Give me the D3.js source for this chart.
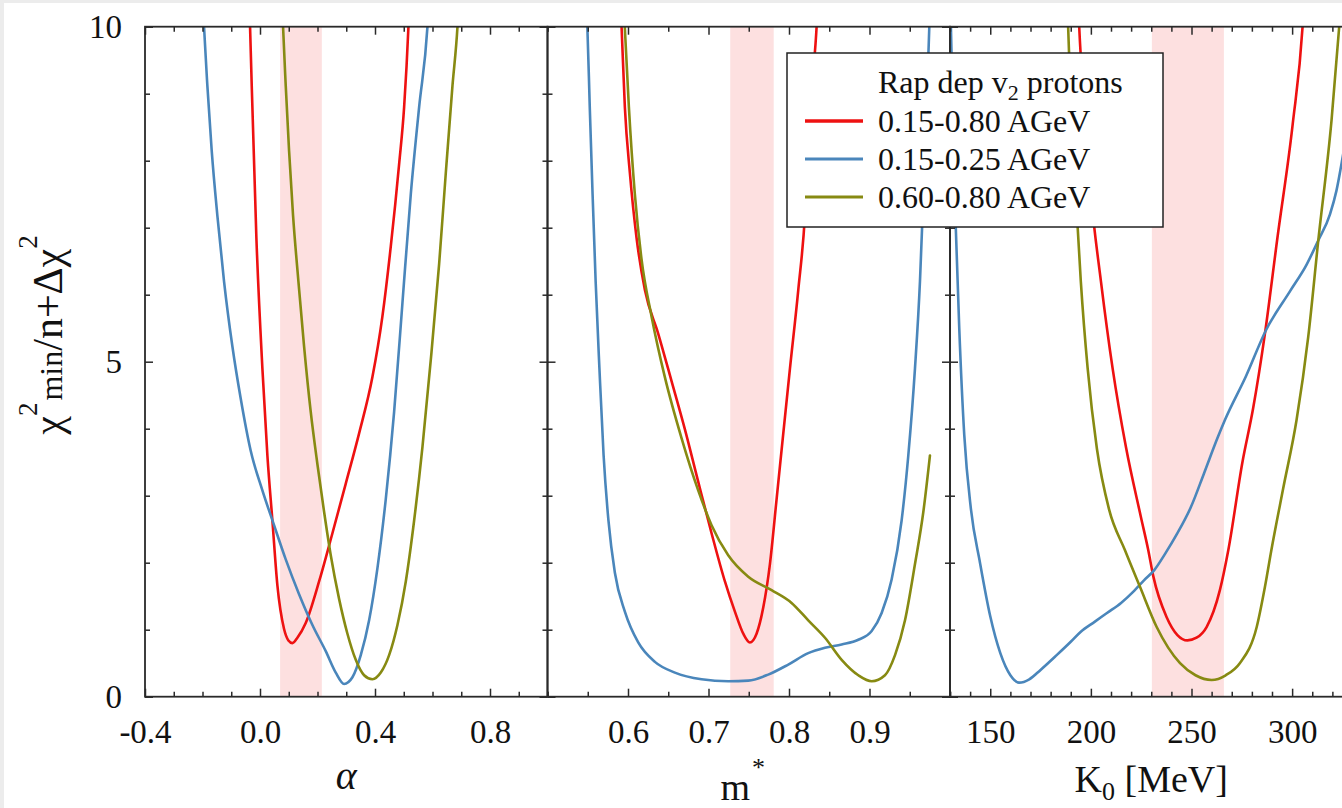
<!DOCTYPE html>
<html><head><meta charset="utf-8">
<script src="https://cdn.jsdelivr.net/npm/d3@7"></script>
<style>
html,body{margin:0;padding:0;background:#fff;}
svg{display:block;}
svg text{font-family:"Liberation Serif","DejaVu Serif",serif !important;fill:#111;}
</style></head>
<body><svg id="c" width="1342" height="808"></svg>
<script>
// ---------- DATA ----------
const seriesNames = ["0.15-0.80 AGeV", "0.15-0.25 AGeV", "0.60-0.80 AGeV"];
const seriesColors = ["#ee1111", "#4a86bb", "#878a12"];

// Panel 1: alpha
const alphaRedX  = [-0.038,-0.0346,-0.0126,0.0083,0.0257,0.0431,0.0605,0.0837,0.0988,0.1127,0.130,0.159,0.2055,0.2519,0.2983,0.3447,0.391,0.4259,0.4549,0.4839,0.5013,0.5163,0.520];
const alphaRedY  = [10.5,10.0,6.85,4.90,3.60,2.63,1.66,1.01,0.84,0.80,0.88,1.10,1.72,2.44,3.18,3.93,4.77,5.68,6.72,7.95,8.80,10.0,10.4];
const alphaBlueX = [-0.200,-0.1947,-0.1831,-0.168,-0.1483,-0.1251,-0.0961,-0.0671,-0.0323,0.0083,0.0489,0.0895,0.1359,0.1823,0.2287,0.2635,0.2925,0.3215,0.3505,0.3795,0.4085,0.4375,0.4665,0.4955,0.5245,0.5535,0.5825,0.588];
const alphaBlueY = [10.5,10.0,9.12,8.15,7.18,6.20,5.23,4.45,3.67,3.08,2.56,2.05,1.53,1.07,0.68,0.36,0.19,0.29,0.62,1.14,1.92,2.95,4.25,5.88,7.50,8.80,10.0,10.4];
const alphaOliveX = [0.076,0.0802,0.0895,0.1011,0.115,0.1336,0.1533,0.1765,0.1997,0.2229,0.2461,0.2751,0.3041,0.3331,0.3621,0.3911,0.4201,0.4491,0.4781,0.5071,0.5361,0.5651,0.5941,0.6231,0.6463,0.6695,0.6869,0.692];
const alphaOliveY = [10.5,10.0,9.12,8.15,7.18,6.20,5.23,4.25,3.47,2.76,2.11,1.46,0.94,0.55,0.32,0.26,0.36,0.62,1.07,1.72,2.63,3.73,5.03,6.46,7.82,9.12,10.0,10.4];

// Panel 2: m*
const mRedX  = [0.590,0.592,0.5961,0.6023,0.6106,0.621,0.6375,0.6541,0.6707,0.6872,0.7038,0.7204,0.7328,0.7432,0.7514,0.7597,0.768,0.7763,0.7846,0.7929,0.8012,0.8115,0.8198,0.8239,0.8289,0.8343,0.836];
const mRedY  = [10.5,10.0,8.80,7.82,6.85,6.07,5.42,4.71,3.99,3.21,2.44,1.72,1.27,0.94,0.81,0.94,1.33,1.98,2.95,3.93,4.90,6.07,7.18,8.15,9.12,10.0,10.4];
const mBlueX = [0.547,0.5495,0.5525,0.556,0.5598,0.5645,0.5697,0.5757,0.5837,0.5961,0.6127,0.6334,0.6582,0.6914,0.7245,0.7494,0.7742,0.7991,0.8239,0.8447,0.8654,0.8861,0.9027,0.9151,0.9275,0.9399,0.9482,0.9565,0.9627,0.9669,0.971,0.9743,0.976];
const mBlueY = [10.5,10.0,8.80,7.50,6.20,4.90,3.60,2.63,1.85,1.27,0.81,0.52,0.36,0.26,0.23,0.24,0.33,0.48,0.65,0.73,0.78,0.85,0.98,1.25,1.75,2.63,3.60,4.90,6.20,7.50,8.80,10.0,10.5];
const mOliveX = [0.594,0.596,0.6011,0.6085,0.6168,0.6292,0.6458,0.6665,0.6872,0.7038,0.7245,0.7494,0.7784,0.8032,0.8239,0.8447,0.8654,0.8861,0.9027,0.9192,0.9317,0.9441,0.9565,0.9669,0.9751];
const mOliveY = [10.5,10.0,8.80,7.50,6.53,5.68,4.77,3.86,3.08,2.56,2.11,1.79,1.59,1.40,1.14,0.88,0.55,0.32,0.23,0.32,0.62,1.14,1.98,2.76,3.60];

// Panel 3: K0 [MeV]
const kRedX  = [193.5,194.2,196.7,200,205,210.8,217.4,224.8,228.5,231,237.6,243,248,252.5,257.5,264.1,268.3,275.3,280.6,286.4,292.7,300.3,305.2,306];
const kRedY  = [10.5,10.0,8.80,7.50,6.20,4.90,3.73,2.69,2.19,1.80,1.19,0.92,0.84,0.88,1.04,1.59,2.19,3.50,4.30,5.40,6.85,8.55,10.0,10.4];
const kBlueX = [130,131.5,132.9,134.6,137.1,140.4,144.9,150,155,160,164.3,169.4,175,183,190,195,202,208,215,221.5,226.5,231.5,236.4,243,249.7,256.3,262.9,266.6,277,287,298.9,307.2,313,318.8,322,324.8,330];
const kBlueY = [10.6,8.6,6.98,5.50,3.90,2.80,2.00,1.20,0.65,0.32,0.21,0.26,0.40,0.62,0.82,0.97,1.12,1.25,1.40,1.58,1.74,1.89,2.11,2.44,2.83,3.34,3.86,4.13,4.78,5.47,6.05,6.45,6.81,7.20,7.55,8.00,9.00];
const kOliveX = [188,188.7,190.1,192.5,195,198.4,203,209,216.9,224.4,232.7,244.3,252,260,267,274,282.4,286.5,289.7,295.5,302.2,308,313,319.6,323.4,325];
const kOliveY = [10.5,10.0,8.80,7.50,6.20,4.90,3.70,2.80,2.19,1.64,1.04,0.50,0.32,0.25,0.32,0.50,1.04,1.64,2.19,3.10,4.13,5.37,6.81,8.61,10.0,10.5];

// shaded bands (preferred region) per panel
const bandLo = [0.07, 0.727, 230.3];
const bandHi = [0.215, 0.781, 266.1];

// axes
const xDomains = [[-0.4, 1.0], [0.5, 1.0], [130, 330]];
const xMajor = [[-0.4, 0.0, 0.4, 0.8], [0.6, 0.7, 0.8, 0.9], [150, 200, 250, 300]];
const xMajorLabels = [["-0.4", "0.0", "0.4", "0.8"], ["0.6", "0.7", "0.8", "0.9"], ["150", "200", "250", "300"]];
const xMinorStep = [0.1, 0.05, 10];
const yMajor = [0, 5, 10];
const yMajorLabels = ["0", "5", "10"];
const yMinor = [1, 2, 3, 4, 6, 7, 8, 9];

const panels = [
  {xs: [alphaRedX, alphaBlueX, alphaOliveX], ys: [alphaRedY, alphaBlueY, alphaOliveY]},
  {xs: [mRedX, mBlueX, mOliveX], ys: [mRedY, mBlueY, mOliveY]},
  {xs: [kRedX, kBlueX, kOliveX], ys: [kRedY, kBlueY, kOliveY]}
];

// ---------- LAYOUT ----------
const FONT = "'Liberation Serif','DejaVu Serif',serif";
const svg = d3.select("#c").attr("font-family", FONT);
svg.append("rect").attr("x",0).attr("y",0).attr("width",1342).attr("height",3).attr("fill","#ececec");
svg.append("rect").attr("x",0).attr("y",0).attr("width",4).attr("height",808).attr("fill","#ececec");

const plotTop = 26.7, plotBottom = 696.7;
const panelLeft = [145, 547.5, 950];
const panelW = 402.5;
const y = d3.scaleLinear().domain([0, 10]).range([plotBottom, plotTop]);
const axisColor = "#2a2a2a";

function minorVals(dom, step, majors) {
  const out = [];
  const n = Math.round((dom[1] - dom[0]) / step);
  for (let i = 0; i <= n; i++) {
    const v = +(dom[0] + i * step).toFixed(6);
    if (!majors.some(m => Math.abs(m - v) < 1e-9)) out.push(v);
  }
  return out;
}

function styleAxis(g) {
  g.attr("font-family", FONT);
  g.select(".domain").remove();
  g.selectAll(".tick line").attr("stroke", axisColor).attr("stroke-width", 1.5);
}

panels.forEach((p, i) => {
  const x0 = panelLeft[i], x1 = x0 + panelW;
  const x = d3.scaleLinear().domain(xDomains[i]).range([x0, x1]);
  const g = svg.append("g");
  const clipId = "clip" + i;
  svg.append("clipPath").attr("id", clipId).append("rect")
    .attr("x", x0).attr("y", plotTop).attr("width", panelW).attr("height", plotBottom - plotTop);
  const inner = g.append("g").attr("clip-path", `url(#${clipId})`);

  inner.append("rect")
    .attr("x", x(bandLo[i])).attr("y", plotTop)
    .attr("width", x(bandHi[i]) - x(bandLo[i])).attr("height", plotBottom - plotTop)
    .attr("fill", "#fde0e0");

  const line = d3.line().x(d => x(d[0])).y(d => y(d[1])).curve(d3.curveMonotoneX);
  p.xs.forEach((xs, s) => {
    const pts = xs.map((v, k) => [v, p.ys[s][k]]);
    inner.append("path").attr("d", line(pts)).attr("fill", "none")
      .attr("stroke", seriesColors[s]).attr("stroke-width", 2.6)
      .attr("stroke-linejoin", "round").attr("stroke-linecap", "round");
  });

  const minors = minorVals(xDomains[i], xMinorStep[i], xMajor[i]);
  g.append("g").attr("transform", `translate(0,${plotBottom})`)
    .call(d3.axisBottom(x).tickValues(xMajor[i]).tickSize(-8).tickPadding(23)
      .tickFormat((d, k) => xMajorLabels[i][k]))
    .call(styleAxis)
    .call(a => a.selectAll("text").attr("font-size", 33).attr("fill", "#111"));
  g.append("g").attr("transform", `translate(0,${plotBottom})`)
    .call(d3.axisBottom(x).tickValues(minors).tickSize(-5).tickFormat(""))
    .call(styleAxis);
  g.append("g").attr("transform", `translate(0,${plotTop})`)
    .call(d3.axisTop(x).tickValues(xMajor[i]).tickSize(-8).tickFormat(""))
    .call(styleAxis);
  g.append("g").attr("transform", `translate(0,${plotTop})`)
    .call(d3.axisTop(x).tickValues(minors).tickSize(-5).tickFormat(""))
    .call(styleAxis);
  const la = d3.axisLeft(y).tickValues(yMajor).tickSize(-8).tickPadding(23)
    .tickFormat((d, k) => i === 0 ? yMajorLabels[k] : "");
  g.append("g").attr("transform", `translate(${x0},0)`).call(la).call(styleAxis)
    .call(a => a.selectAll("text").attr("font-size", 33).attr("fill", "#111"));
  g.append("g").attr("transform", `translate(${x0},0)`)
    .call(d3.axisLeft(y).tickValues(yMinor).tickSize(-5).tickFormat("")).call(styleAxis);
  g.append("g").attr("transform", `translate(${x1},0)`)
    .call(d3.axisRight(y).tickValues(yMajor).tickSize(-8).tickFormat("")).call(styleAxis);
  g.append("g").attr("transform", `translate(${x1},0)`)
    .call(d3.axisRight(y).tickValues(yMinor).tickSize(-5).tickFormat("")).call(styleAxis);

  g.append("rect").attr("x", x0).attr("y", plotTop).attr("width", panelW)
    .attr("height", plotBottom - plotTop).attr("fill", "none")
    .attr("stroke", axisColor).attr("stroke-width", 1.8);
});

// x-axis titles
const cx = panelLeft.map(l => l + panelW / 2);
svg.append("text").attr("x", cx[0]).attr("y", 789).attr("text-anchor", "middle")
  .attr("font-size", 40).attr("font-style", "italic").text("α");
const mt = svg.append("text").attr("x", cx[1] - 6).attr("y", 800).attr("text-anchor", "middle").attr("font-size", 38);
mt.append("tspan").text("m");
mt.append("tspan").attr("font-size", 26).attr("dy", -24).attr("dx", 2).text("*");
const kt = svg.append("text").attr("x", cx[2]).attr("y", 792).attr("text-anchor", "middle").attr("font-size", 38);
kt.append("tspan").text("K");
kt.append("tspan").attr("font-size", 26).attr("dy", 8).text("0");
kt.append("tspan").attr("dy", -8).text(" [MeV]");

// y-axis title
const yt = svg.append("text").attr("transform", "translate(62,335) rotate(-90)")
  .attr("text-anchor", "middle").attr("font-size", 42);
yt.append("tspan").text("χ");
yt.append("tspan").attr("font-size", 27).attr("dy", -25).text("2");
yt.append("tspan").attr("font-size", 32).attr("dy", 25).attr("dx", 2).text("min");
yt.append("tspan").text("/n+Δχ");
yt.append("tspan").attr("font-size", 27).attr("dy", -25).text("2");

// legend
const lg = svg.append("g");
lg.append("rect").attr("x", 787).attr("y", 53).attr("width", 376).attr("height", 174)
  .attr("fill", "#fff").attr("stroke", "#222").attr("stroke-width", 1.5);
const tt = lg.append("text").attr("x", 878).attr("y", 93).attr("font-size", 32);
tt.append("tspan").text("Rap dep v");
tt.append("tspan").attr("font-size", 22).attr("dy", 7).text("2");
tt.append("tspan").attr("dy", -7).text(" protons");
const rowBase = [132, 170, 208];
seriesNames.forEach((n, s) => {
  lg.append("line").attr("x1", 805).attr("x2", 863)
    .attr("y1", rowBase[s] - 11).attr("y2", rowBase[s] - 11)
    .attr("stroke", seriesColors[s]).attr("stroke-width", s === 0 ? 3.5 : 3);
  lg.append("text").attr("x", 878).attr("y", rowBase[s]).attr("font-size", 32).text(n);
});
</script></body></html>
